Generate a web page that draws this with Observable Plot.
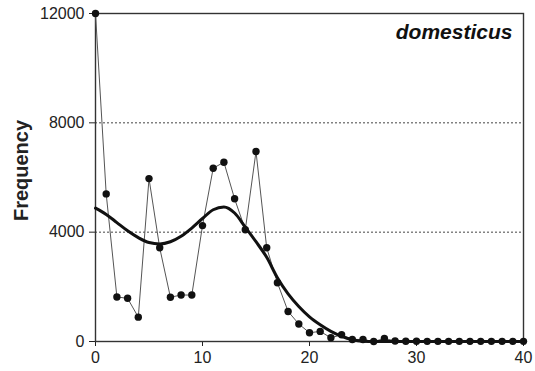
<!DOCTYPE html>
<html>
<head>
<meta charset="utf-8">
<script src="https://cdn.jsdelivr.net/npm/d3@7"></script>
<script src="https://cdn.jsdelivr.net/npm/@observablehq/plot@0.6"></script>
<style>
  html, body { margin: 0; padding: 0; background: #fff; }
</style>
</head>
<body>
<div id="chart"></div>
<script>
// Observed frequency per class (x = 0..40)
const classes = d3.range(0, 41);
const observed = [12000, 5400, 1630, 1580, 890, 5960, 3430, 1620, 1700, 1700,
                  4240, 6340, 6560, 5220, 4090, 6950, 3430, 2150, 1100, 640,
                  320, 370, 135, 245, 75, 75, 0, 110, 20, 10,
                  10, 5, 5, 5, 5, 5, 5, 5, 5, 5, 5];
// Fitted smooth curve, read at each class
const fitted = [4880, 4650, 4350, 4050, 3800, 3620, 3570, 3650, 3850, 4150,
                4500, 4820, 4920, 4700, 4180, 3650, 3080, 2330, 1740, 1280,
                900, 610, 370, 190, 70, 10, 0, 0, 0, 0,
                0, 0, 0, 0, 0, 0, 0, 0, 0, 0, 0];
const xTicks = [0, 10, 20, 30, 40];
const yTicks = [0, 4000, 8000, 12000];
const gridLines = [4000, 8000];
const yLabel = "Frequency";
const seriesLabel = "domesticus";

const obsData = classes.map((c, i) => ({x: c, y: observed[i]}));
const fitData = classes.map((c, i) => ({x: c, y: fitted[i]}));

const chart = Plot.plot({
  width: 535,
  height: 371,
  marginLeft: 95,
  marginRight: 12,
  marginTop: 13,
  marginBottom: 30,
  style: {fontFamily: "'Liberation Sans', Arial, sans-serif", fontSize: "16px", color: "#222", background: "#fff"},
  x: {domain: [0, 40], ticks: xTicks, tickSize: 5, tickPadding: 5, label: null},
  y: {domain: [0, 12000], ticks: yTicks, tickSize: 6, tickPadding: 5, label: null, tickFormat: d => String(d)},
  marks: [
    Plot.ruleY(gridLines, {stroke: "#444", strokeWidth: 1, strokeDasharray: "2,2"}),
    Plot.frame({stroke: "#333", strokeWidth: 1.4}),
    Plot.line(obsData, {x: "x", y: "y", stroke: "#555", strokeWidth: 1}),
    Plot.dot(obsData, {x: "x", y: "y", r: 3.7, fill: "#111", stroke: "none"}),
    Plot.line(fitData, {x: "x", y: "y", stroke: "#111", strokeWidth: 3, curve: "monotone-x"}),
    Plot.text([yLabel], {frameAnchor: "left", text: d => d, rotate: -90, dx: -74, dy: -7,
      textAnchor: "middle", fontSize: 20, fontWeight: "bold", fill: "#222"}),
    Plot.text([seriesLabel], {frameAnchor: "top-right", text: d => d, dx: -11, dy: 11,
      fontSize: 21, fontWeight: "bold", fontStyle: "italic", fill: "#111"})
  ]
});
document.getElementById("chart").appendChild(chart);
</script>
</body>
</html>
